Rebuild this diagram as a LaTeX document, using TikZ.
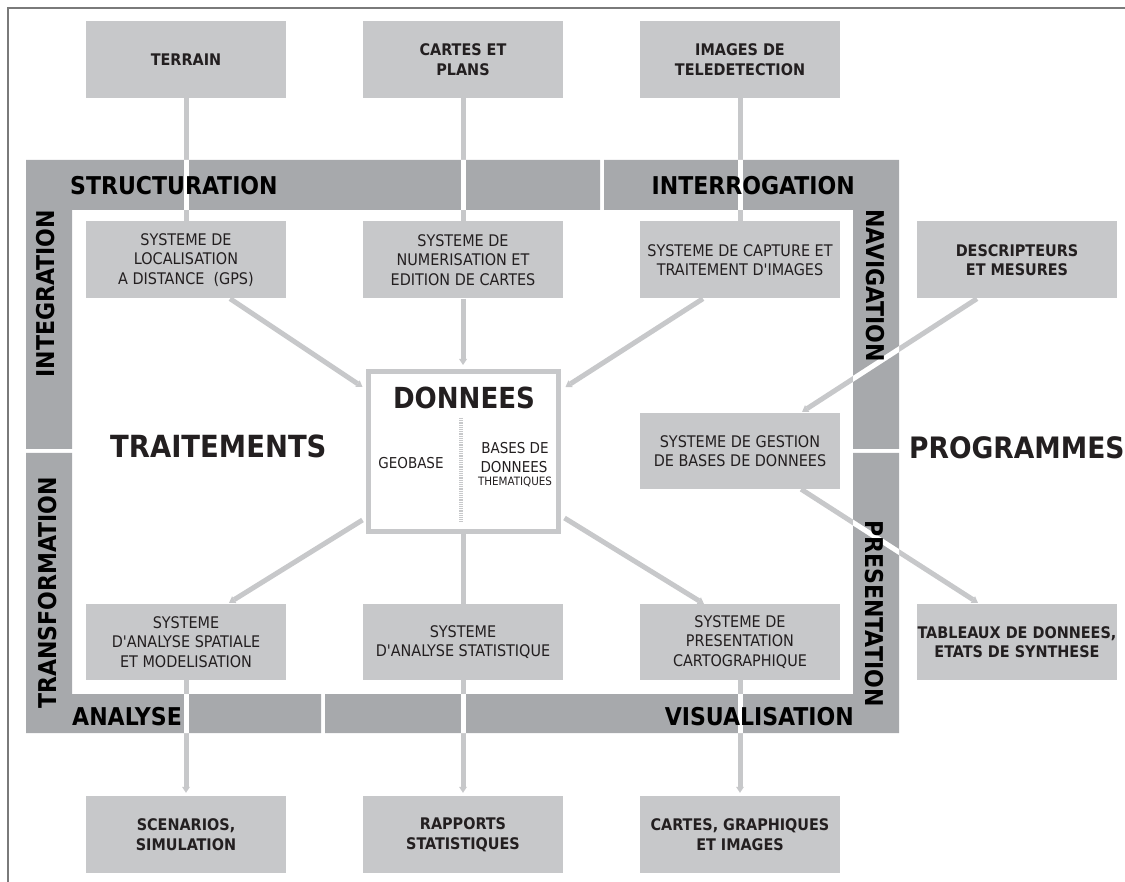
\documentclass[tikz,border=0pt]{standalone}
\usepackage{fontspec}
\setmainfont{DejaVu Sans Condensed}
\usetikzlibrary{calc}
\usetikzlibrary{arrows.meta}
\definecolor{bandgray}{HTML}{A7A9AC}
\definecolor{boxgray}{HTML}{C7C8CA}
\definecolor{framegray}{HTML}{7A7A7A}
\definecolor{inkdark}{HTML}{231F20}
\tikzset{
  box/.style={rectangle, fill=boxgray, minimum width=200pt, minimum height=77pt,
    inner sep=0pt, align=center, text=inkdark, font=\fontsize{16}{19.5}\selectfont},
  srcbox/.style={box, font=\bfseries\fontsize{16}{19.5}\selectfont},
  bandlabel/.style={inner sep=0pt, text=black, font=\bfseries\fontsize{24.5}{28}\selectfont},
  biglabel/.style={inner sep=0pt, text=inkdark, font=\bfseries\fontsize{29.5}{34}\selectfont},
  smalltext/.style={inner sep=0pt, text=inkdark, font=\fontsize{15}{18}\selectfont},
  conn/.style={draw=boxgray, line width=5pt},
  connarrow/.style={conn, -{Triangle[length=6pt,width=8pt,line width=0pt]}},
}
\newcommand\drawlinks[2]{%
\draw[#1] (terrain) -- (loc);
\draw[#1] (cartes) -- (numer);
\draw[#1] (images) -- (capture);
\draw[#2] ($(loc.south west)!0.72!(loc.south east)$) -- ($(donnees.north west)+(-3,18)$);
\draw[#2] (numer) -- ($(donnees.north)+(0,-4)$);
\draw[#2] ($(capture.south west)!0.315!(capture.south east)$) -- ($(donnees.north east)+(5,18)$);
\draw[#2] ($(descr.south west)!0.3!(descr.south east)$) -- ($(gestion.north west)!0.81!(gestion.north east)+(0,-1)$);
\draw[#2] ($(gestion.south west)!0.805!(gestion.south east)$) -- ($(tableaux.north west)!0.305!(tableaux.north east)+(0,-1)$);
\draw[#2] ($(donnees.south west)+(-3,-14)$) -- ($(spatiale.north west)!0.715!(spatiale.north east)+(0,-1)$);
\draw[#1] (donnees) -- (statist);
\draw[#2] ($(donnees.south east)+(4,-16)$) -- ($(presen.north west)!0.32!(presen.north east)$);
\draw[#2] (spatiale) -- ($(scenarios.north)+(0,-3)$);
\draw[#2] (statist) -- ($(rapports.north)+(0,-3)$);
\draw[#2] (presen) -- ($(cartesgr.north)+(0,-3)$);
}

\begin{document}
\begin{tikzpicture}[x=1pt,y=-1pt]
\useasboundingbox (0,0) rectangle (1125,882);
\draw[framegray, line width=1.5pt] (8,882) -- (8,8) -- (1125,8);

\fill[bandgray] (26,160) -- (600,160) -- (600,210) -- (72,210) -- (72,449) -- (26,449) -- cycle;
\fill[bandgray] (604,160) -- (899,160) -- (899,449) -- (853,449) -- (853,210) -- (604,210) -- cycle;
\fill[bandgray] (26,453) -- (72,453) -- (72,694) -- (321,694) -- (321,733) -- (26,733) -- cycle;
\fill[bandgray] (325,694) -- (853,694) -- (853,453) -- (899,453) -- (899,733) -- (325,733) -- cycle;

\node[srcbox] (terrain) at (186,59.5) {TERRAIN};
\node[srcbox] (cartes) at (463,59.5) {CARTES ET\\PLANS};
\node[srcbox] (images) at (740,59.5) {IMAGES DE\\TELEDETECTION};

\node[box] (loc) at (186,260) {SYSTEME DE\\LOCALISATION\\A DISTANCE\ \ (GPS)};
\node[box] (numer) at (463,260) {SYSTEME DE\\NUMERISATION ET\\EDITION DE CARTES};
\node[box] (capture) at (740,260) {SYSTEME DE CAPTURE ET\\TRAITEMENT D\textquotesingle IMAGES};
\node[srcbox] (descr) at (1017,260) {DESCRIPTEURS\\ET MESURES};

\node[box, minimum height=76pt] (gestion) at (740,451) {SYSTEME DE GESTION\\DE BASES DE DONNEES};

\node[draw=boxgray, line width=5pt, minimum width=190pt, minimum height=160pt] (donnees) at (463,451.5) {};
\node[biglabel, font=\bfseries\fontsize{29}{34}\selectfont] (dontitle) at (464,398) {DONNEES};
\draw[boxgray, line width=4pt, dash pattern=on 1.2pt off 1pt] (461,418) -- (461,522);
\node[smalltext] (geobase) at (411,463) {GEOBASE};
\node[smalltext, anchor=base] (bdd1) at (515,453.5) {BASES DE};
\node[smalltext, anchor=base] (bdd2) at (514,472.5) {DONNEES};
\node[smalltext, anchor=base, font=\fontsize{11.5}{13}\selectfont] (bdd3) at (515,485.5) {THEMATIQUES};

\node[box, minimum height=76pt] (spatiale) at (186,642) {SYSTEME\\D\textquotesingle ANALYSE SPATIALE\\ET MODELISATION};
\node[box, minimum height=76pt] (statist) at (463,642) {SYSTEME\\D\textquotesingle ANALYSE STATISTIQUE};
\node[box, minimum height=76pt] (presen) at (740,642) {SYSTEME DE\\PRESENTATION\\CARTOGRAPHIQUE};
\node[srcbox, minimum height=76pt] (tableaux) at (1017,642) {TABLEAUX DE DONNEES,\\ETATS DE SYNTHESE};

\node[srcbox] (scenarios) at (186,834.5) {SCENARIOS,\\SIMULATION};
\node[srcbox] (rapports) at (463,834.5) {RAPPORTS\\STATISTIQUES};
\node[srcbox] (cartesgr) at (740,834.5) {CARTES, GRAPHIQUES\\ET IMAGES};

\drawlinks{conn}{connarrow}
\begin{scope}
\clip (26,160) rectangle (899,210) (26,160) rectangle (72,733)
  (853,160) rectangle (899,733) (26,694) rectangle (899,733);
\drawlinks{conn,draw=white}{conn,draw=white}
\end{scope}

\node[bandlabel, anchor=base west] (struct) at (70,195) {STRUCTURATION};
\node[bandlabel, anchor=base east] (interr) at (855,195) {INTERROGATION};
\node[bandlabel, rotate=90, anchor=base east] (integr) at (54,210) {INTEGRATION};
\node[bandlabel, rotate=90, anchor=base east] (transf) at (56,477) {TRANSFORMATION};
\node[bandlabel, rotate=-90, anchor=base west] (navig) at (866,209) {NAVIGATION};
\node[bandlabel, rotate=-90, anchor=base west] (presl) at (865,520) {PRESENTATION};
\node[bandlabel, anchor=base west] (analyse) at (72,725) {ANALYSE};
\node[bandlabel, anchor=base east] (visu) at (854,725) {VISUALISATION};

\node[biglabel, font=\bfseries\fontsize{30.5}{34}\selectfont, anchor=base west] (traite) at (110,457) {TRAITEMENTS};
\node[biglabel, anchor=base west] (progr) at (909,459) {PROGRAMMES};
\end{tikzpicture}
\end{document}
